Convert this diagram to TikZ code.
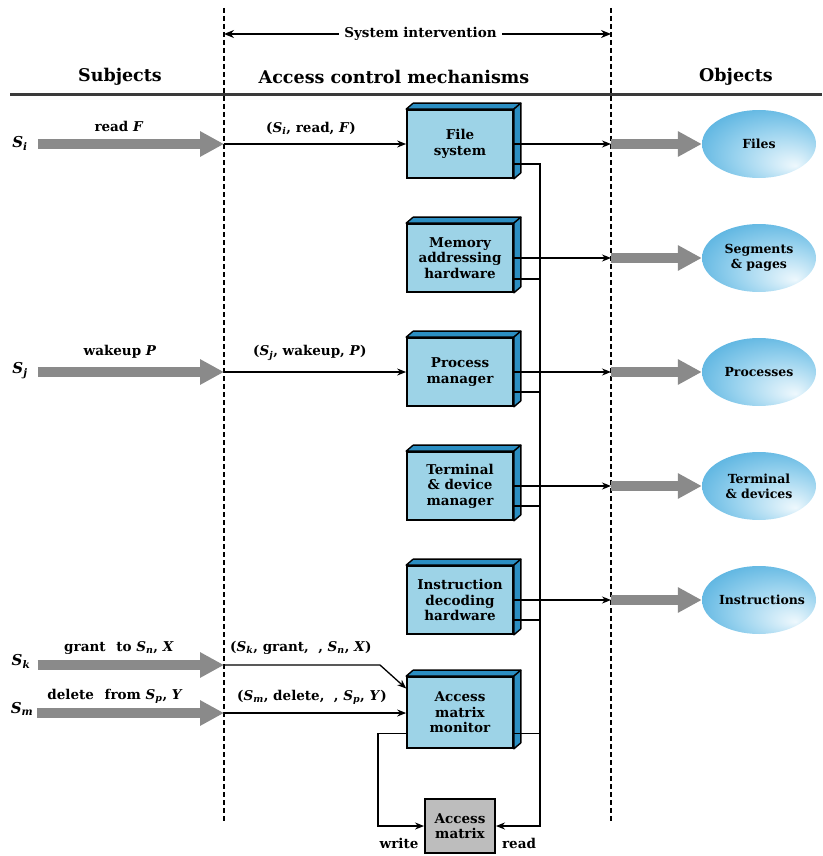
\documentclass[tikz,border=0pt]{standalone}
\usepackage{fontspec}
\setmainfont{DejaVu Serif}
\usetikzlibrary{arrows.meta,calc,shapes.geometric}

\definecolor{mechface}{HTML}{9DD3E7}
\definecolor{mechside}{HTML}{2B8EC2}
\definecolor{matrixgray}{HTML}{BDBDBD}
\definecolor{flowgray}{HTML}{8A8A8A}
\definecolor{objedge}{HTML}{32A0D8}
\definecolor{objmid}{HTML}{98D2EE}
\definecolor{objhi}{HTML}{EEF8FD}
\definecolor{rulegray}{HTML}{3A3A3A}

\pgfdeclareradialshading{objball}{\pgfpoint{16bp}{-16bp}}{%
  color(0bp)=(objhi); color(20bp)=(objmid); color(44bp)=(objedge); color(50bp)=(objedge)}

% italic variable with italic subscript
\newcommand\sv[2]{\textit{#1}\textsubscript{\textit{#2}}}

\begin{document}
\begin{tikzpicture}[x=1pt,y=-1pt,
  font=\bfseries\fontsize{13.5}{15.5}\selectfont,
  heading/.style={font=\bfseries\fontsize{17.5}{20}\selectfont},
  subj/.style={inner sep=0pt, font=\bfseries\fontsize{15}{17}\selectfont},
  lab/.style={inner sep=0pt},
  mech/.style={draw, line width=1.7pt, fill=mechface, minimum width=106pt,
    minimum height=68pt, align=center, inner sep=0pt},
  matrixbox/.style={draw, line width=1.9pt, fill=matrixgray, minimum width=70pt,
    minimum height=54pt, align=center, inner sep=0pt},
  obj/.style={ellipse, shading=objball, minimum width=114pt, minimum height=68pt,
    inner sep=0pt, text width=80pt, align=center,
    font=\bfseries\fontsize{12.5}{15}\selectfont},
  flow/.style={draw=flowgray, line width=10pt, -{Triangle[length=24pt,width=24pt]}, flowgray},
  wire/.style={line width=1.3pt},
  sig/.style={wire, -{Stealth[length=9pt,width=7pt]}},
  divider/.style={line width=2.6pt, dash pattern=on 5pt off 3pt},
  extrude/.style={fill=mechside, draw, line width=1.4pt, line join=round}]

\useasboundingbox (0,0) rectangle (822,856);

% column dividers and the intervention span
\coordinate (ltop) at (224,8);  \coordinate (lbot) at (224,822);
\coordinate (rtop) at (611,8);  \coordinate (rbot) at (611,822);
\draw[divider] (ltop) -- (lbot);
\draw[divider] (rtop) -- (rbot);
\coordinate (sysL) at (224,34); \coordinate (sysR) at (611,34);
\draw[line width=1.5pt, {Stealth[length=10pt,width=8pt]}-{Stealth[length=10pt,width=8pt]}]
  (sysL) -- (sysR) node[midway, xshift=3pt, fill=white, inner sep=5pt] {System intervention};

% column headings
\node[heading] (hsub) at (120,77) {Subjects};
\node[heading] (hacm) at (394,77) {Access control mechanisms};
\node[heading] (hobj) at (736,77) {Objects};
\coordinate (ruleL) at (10,95); \coordinate (ruleR) at (822,95);
\draw[line width=3pt, rulegray] (ruleL) -- (ruleR);

% access control mechanisms
\node[mech] (fs)  at (460,144)   {File\\system};
\node[mech] (mem) at (460,258)   {Memory\\addressing\\hardware};
\node[mech] (pm)  at (460,372)   {Process\\manager};
\node[mech] (td)  at (460,486)   {Terminal\\\& device\\manager};
\node[mech] (id)  at (460,600)   {Instruction\\decoding\\hardware};
\node[mech, minimum height=71pt] (amm) at (460,712.5) {Access\\matrix\\monitor};
\node[matrixbox] (am) at (460,826) {Access\\matrix};

\foreach \n in {fs,mem,pm,td,id,amm}{
  \filldraw[extrude] (\n.north west) -- ($(\n.north west)+(7,-6)$)
    -- ($(\n.north east)+(7,-6)$) -- (\n.north east) -- cycle;
  \filldraw[extrude] (\n.north east) -- ($(\n.north east)+(7,-6)$)
    -- ($(\n.south east)+(7,-6)$) -- (\n.south east) -- cycle;
}

% objects
\node[obj] (files) at (759,144) {Files};
\node[obj] (segs)  at (759,258) {Segments\\\& pages};
\node[obj] (procs) at (759,372) {Processes};
\node[obj] (terms) at (759,486) {Terminal\\\& devices};
\node[obj] (instr) at (759,600) {Instructions};

% subjects
\node[subj] (si) at (20,143) {\sv{S}{i}};
\node[subj] (sj) at (20,371) {\sv{S}{j}};
\node[subj] (sk) at (21,661) {\sv{S}{k}};
\node[subj] (sm) at (22,709) {\sv{S}{m}};

% requests crossing into the mechanisms
\coordinate (li) at (224,144);
\coordinate (lj) at (224,372);
\coordinate (lk) at (224,665);
\coordinate (lm) at (224,713);
\coordinate (kbend) at (380,665);

\draw[flow] ([xshift=10pt]si.east |- li) -- (li);
\draw[flow] ([xshift=10pt]sj.east |- lj) -- (lj);
\draw[flow] ([xshift=7pt]sk.east |- lk) -- (lk);
\draw[flow] ([xshift=4pt]sm.east |- lm) -- (lm);

\node[lab] at (119,126) {read \textit{F}};
\node[lab] at (120,352) {wakeup \textit{P}};
\node[lab] at (119,648) {grant\hspace{0.8em}to \sv{S}{n}, \textit{X}};
\node[lab] at (115,696) {delete\hspace{0.8em}from \sv{S}{p}, \textit{Y}};

\node[lab, anchor=west] at (266,128) {(\sv{S}{i}, read, \textit{F})};
\node[lab, anchor=west] at (253,353) {(\sv{S}{j}, wakeup, \textit{P})};
\node[lab, anchor=west] at (230,648) {(\sv{S}{k}, grant,\hspace{0.7em}, \sv{S}{n}, \textit{X})};
\node[lab, anchor=west] at (237,697) {(\sv{S}{m}, delete,\hspace{0.7em}, \sv{S}{p}, \textit{Y})};

\draw[sig] (li) -- (fs);
\draw[sig] (lj) -- (pm);
\draw[sig] (lk) -- (kbend) -- ([yshift=24pt]amm.west);
\draw[sig] (lm) -- (amm.west |- lm);

% mechanisms out to the objects
\coordinate (rfs)  at (611,144);
\coordinate (rmem) at (611,258);
\coordinate (rpm)  at (611,372);
\coordinate (rtd)  at (611,486);
\coordinate (rid)  at (611,600);
\draw[sig] (fs.east)  -- (rfs);
\draw[sig] (mem.east) -- (rmem);
\draw[sig] (pm.east)  -- (rpm);
\draw[sig] (td.east)  -- (rtd);
\draw[sig] (id.east)  -- (rid);
\draw[flow] (rfs)  -- (files);
\draw[flow] (rmem) -- (segs);
\draw[flow] (rpm)  -- (procs);
\draw[flow] (rtd)  -- (terms);
\draw[flow] (rid)  -- (instr);

% read bus into the access matrix
\coordinate (busBot) at (540,826);
\coordinate (fslo)  at ([yshift=-20pt]fs.east);
\coordinate (memlo) at ([yshift=-21pt]mem.east);
\coordinate (pmlo)  at ([yshift=-20pt]pm.east);
\coordinate (tdlo)  at ([yshift=-20pt]td.east);
\coordinate (idlo)  at ([yshift=-20pt]id.east);
\coordinate (ammlo) at ([yshift=-21pt]amm.east);
\draw[sig] (fslo) -| (busBot) -- (am);
\draw[wire] (memlo) -- (memlo -| busBot);
\draw[wire] (pmlo)  -- (pmlo -| busBot);
\draw[wire] (tdlo)  -- (tdlo -| busBot);
\draw[wire] (idlo)  -- (idlo -| busBot);
\draw[wire] (ammlo) -- (ammlo -| busBot);

% write path from the monitor
\coordinate (ammwl) at ([yshift=-21pt]amm.west);
\coordinate (wcorner) at (378,826);
\draw[sig] (ammwl) -| (wcorner) -- (am);

\node[lab] (wlab) at (399,843) {write};
\node[lab] (rlab) at (519,843) {read};
\end{tikzpicture}
\end{document}
